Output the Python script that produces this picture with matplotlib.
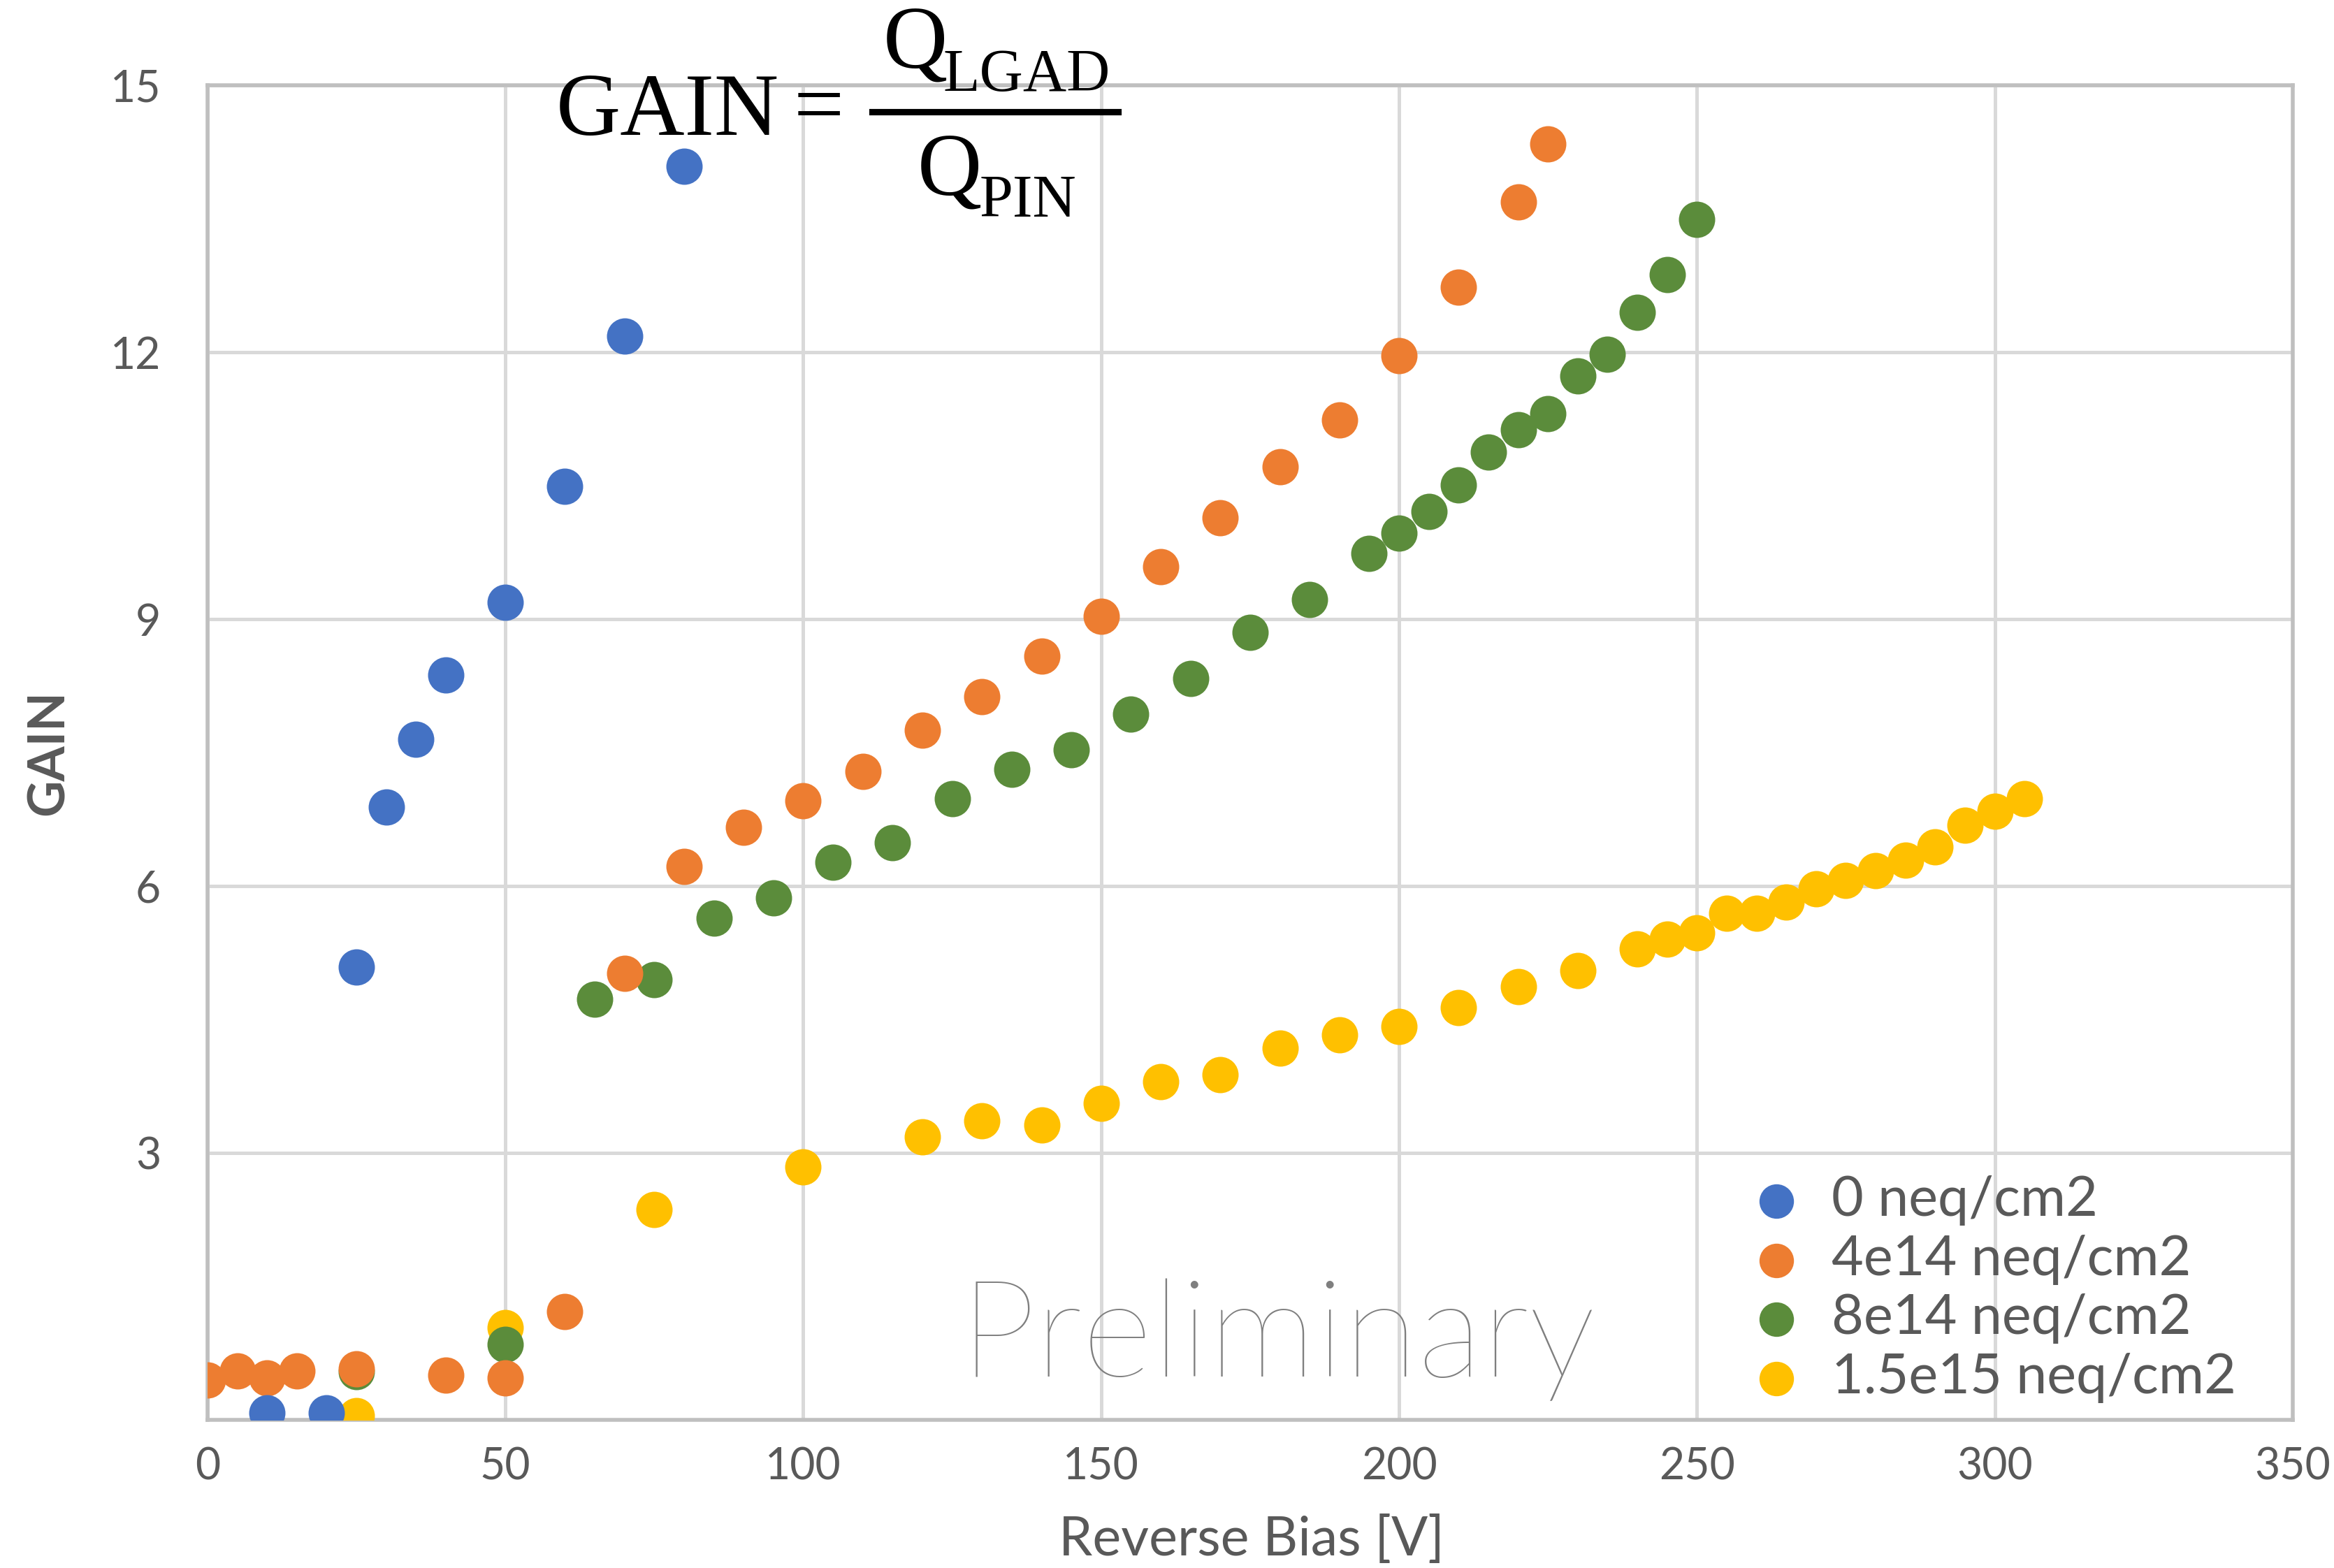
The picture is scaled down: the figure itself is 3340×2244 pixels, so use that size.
import matplotlib
matplotlib.use('Agg')
import matplotlib.pyplot as plt
from matplotlib.lines import Line2D

# data
v_0 = [10, 20, 25, 30, 35, 40, 50, 60, 70, 80]
g_0 = [0.08, 0.08, 5.09, 6.89, 7.65, 8.37, 9.19, 10.49, 12.18, 14.09]

v_4e14 = [0, 5, 10, 15, 25, 40, 50, 60, 70, 80, 90, 100, 110, 120, 130, 140,
          150, 160, 170, 180, 190, 200, 210, 220, 225]
g_4e14 = [0.45, 0.55, 0.47, 0.55, 0.57, 0.50, 0.47, 1.22, 5.02, 6.22, 6.66,
          6.96, 7.29, 7.75, 8.13, 8.58, 9.03, 9.59, 10.14, 10.71, 11.24,
          11.96, 12.73, 13.69, 14.34]

v_8e14 = [25, 50, 65, 75, 85, 95, 105, 115, 125, 135, 145, 155, 165, 175, 185,
          195, 200, 205, 210, 215, 220, 225, 230, 235, 240, 245, 250]
g_8e14 = [0.54, 0.85, 4.73, 4.95, 5.64, 5.87, 6.27, 6.49, 6.98, 7.31, 7.53,
          7.93, 8.33, 8.85, 9.22, 9.74, 9.97, 10.21, 10.51, 10.88, 11.13,
          11.31, 11.73, 11.98, 12.45, 12.87, 13.49]

v_15e15 = [25, 50, 75, 100, 120, 130, 140, 150, 160, 170, 180, 190, 200, 210,
           220, 230, 240, 245, 250, 255, 260, 265, 270, 275, 280, 285, 290,
           295, 300, 305]
g_15e15 = [0.05, 1.04, 2.36, 2.84, 3.18, 3.36, 3.31, 3.56, 3.80, 3.88, 4.18,
           4.33, 4.42, 4.63, 4.87, 5.05, 5.29, 5.40, 5.47, 5.69, 5.69, 5.82,
           5.97, 6.06, 6.17, 6.29, 6.44, 6.68, 6.84, 6.98]

labels = ['0 neq/cm2', '4e14 neq/cm2', '8e14 neq/cm2', '1.5e15 neq/cm2']
colors = ['#4472C4', '#ED7D31', '#5B8C3B', '#FFC000']

W, H = 3340, 2244
fig = plt.figure(figsize=(16.7, 11.22), dpi=200)
ax = fig.add_axes([0.0889, 0.0945, 0.8934, 0.8511])

txt = '#595959'
font = 'Lato'

series = [(v_0, g_0), (v_4e14, g_4e14), (v_8e14, g_8e14), (v_15e15, g_15e15)]
zo = [6, 5, 4, 3]
for (x, y), lab, c, z in zip(series, labels, colors, zo):
    ax.scatter(x, y, s=350, color=c, label=lab, zorder=z, linewidths=0)

ax.set_xlim(0, 350)
ax.set_ylim(0, 15)
ax.set_xticks(range(0, 351, 50))
ax.set_yticks([3, 6, 9, 12, 15])
ax.grid(True, color='#D9D9D9', lw=1.8, zorder=0)
ax.set_axisbelow(True)
for s in ax.spines.values():
    s.set_color('#BFBFBF')
    s.set_linewidth(2.0)
ax.tick_params(length=0, labelsize=22.5, labelcolor=txt, pad=14)
ax.tick_params(axis='y', pad=24)
for t in ax.get_xticklabels() + ax.get_yticklabels():
    t.set_fontfamily(font)

ax.set_xlabel('Reverse Bias [V]', fontsize=27.8, color=txt, family=font, va='center')
ax.set_ylabel('GAIN', fontsize=26, color=txt, family=font, fontweight='bold', va='center')
ax.xaxis.set_label_coords(0.5007, -0.0906)
ax.yaxis.set_label_coords(-0.076, 0.5)

leg = ax.legend(loc='lower right', frameon=False, prop={'family': font, 'size': 28.5},
                markerscale=0.95, handlelength=1.0, handletextpad=0.5, labelspacing=0.16,
                borderaxespad=0.0, bbox_to_anchor=(0.9836, -0.004))
for t in leg.get_texts():
    t.set_color(txt)

# watermark
fig.text(1373 / W, 1 - 1970 / H, 'Preliminary', fontsize=70, color='#7F7F7F',
         family='Lato', fontweight=100, ha='left', va='baseline')

# formula
serif = 'Liberation Serif'
fig.text(796 / W, 1 - 193 / H, 'GAIN', fontsize=46, family=serif, ha='left', va='baseline')
fig.text(1172 / W, 1 - 160 / H, '=', fontsize=46, family=serif, ha='center', va='center')
fig.add_artist(Line2D([1248 / W, 1600 / W], [1 - 160 / H, 1 - 160 / H], color='black',
                      lw=3.3, transform=fig.transFigure))
fig.text(1264 / W, 1 - 98 / H, 'Q', fontsize=46, family=serif, ha='left', va='baseline')
fig.text(1350 / W, 1 - 130 / H, 'LGAD', fontsize=31, family=serif, ha='left', va='baseline')
fig.text(1313 / W, 1 - 280 / H, 'Q', fontsize=46, family=serif, ha='left', va='baseline')
fig.text(1402 / W, 1 - 310 / H, 'PIN', fontsize=31, family=serif, ha='left', va='baseline')

fig.savefig('out.png', dpi=200)
